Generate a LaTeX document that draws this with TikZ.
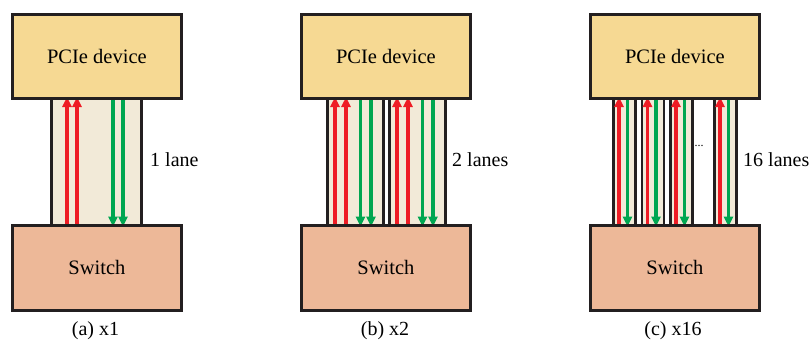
\documentclass[tikz,border=0pt]{standalone}
\usepackage{fontspec}
\setmainfont{Liberation Serif}
\usetikzlibrary{arrows.meta}
\definecolor{dev}{HTML}{F6D993}
\definecolor{sw}{HTML}{EDB898}
\definecolor{lanefill}{HTML}{F2EAD8}
\definecolor{rd}{HTML}{EE1C25}
\definecolor{gr}{HTML}{00A651}
\definecolor{edge}{HTML}{231F20}
\tikzset{
  devbox/.style={draw=edge, line width=2.8pt, fill=dev, minimum width=169pt, minimum height=84pt, anchor=north west, inner sep=0pt, font=\fontsize{20.5}{23}\selectfont},
  swbox/.style={draw=edge, line width=2.8pt, fill=sw, minimum width=169pt, minimum height=85pt, anchor=north west, inner sep=0pt, font=\fontsize{20.5}{23}\selectfont},
  lanebox/.style={draw=edge, line width=2.5pt, fill=lanefill, minimum height=127pt, anchor=north west, inner sep=0pt},
  up/.style={draw=rd, line width=3.6pt, -{Triangle[length=10pt,width=9pt]}},
  down/.style={draw=gr, line width=3.6pt, -{Triangle[length=10pt,width=9pt]}},
  lbl/.style={anchor=west, inner sep=0pt, font=\fontsize{20}{23}\selectfont},
  captxt/.style={inner sep=0pt, font=\fontsize{20}{23}\selectfont}
}
\begin{document}
\begin{tikzpicture}[x=1pt,y=-1pt]
\useasboundingbox (0,0) rectangle (812,341);
% ---- (a) ----
\node[lanebox, minimum width=90pt] (a1) at (50,97) {};
\foreach \o in {17,27} \draw[up] ([xshift=\o pt]a1.south west) -- ([xshift=\o pt]a1.north west);
\foreach \o in {63,73} \draw[down] ([xshift=\o pt]a1.north west) -- ([xshift=\o pt]a1.south west);
\node[devbox] (adev) at (11,13) {PCIe device};
\node[swbox] (asw) at (11,224) {Switch};
\node[lbl] (alab) at (150,160) {1 lane};
\node[captxt] (acap) at (95.5,331) {(a) x1};
% ---- (b) ----
\foreach \n/\x in {b1/326,b2/388} {
  \node[lanebox, minimum width=56pt] (\n) at (\x,97) {};
  \foreach \o in {9,20} \draw[up] ([xshift=\o pt]\n.south west) -- ([xshift=\o pt]\n.north west);
  \foreach \o in {34.5,45} \draw[down] ([xshift=\o pt]\n.north west) -- ([xshift=\o pt]\n.south west);
}
\node[devbox] (bdev) at (300,13) {PCIe device};
\node[swbox] (bsw) at (300,224) {Switch};
\node[lbl] (blab) at (452,160) {2 lanes};
\node[captxt] (bcap) at (385,331) {(b) x2};
% ---- (c) ----
\foreach \n/\x in {c1/612,c2/640.5,c3/669,c4/713} {
  \node[lanebox, minimum width=22pt] (\n) at (\x,97) {};
  \draw[up] ([xshift=7pt]\n.south west) -- ([xshift=7pt]\n.north west);
  \draw[down] ([xshift=15.5pt]\n.north west) -- ([xshift=15.5pt]\n.south west);
}
\node[devbox] (cdev) at (589,13) {PCIe device};
\node[swbox] (csw) at (589,224) {Switch};
\node[inner sep=0pt, font=\fontsize{12}{14}\selectfont] (cdots) at (699,146) {...};
\node[lbl] (clab) at (743,160) {16 lanes};
\node[captxt] (ccap) at (673,331) {(c) x16};
\end{tikzpicture}
\end{document}
